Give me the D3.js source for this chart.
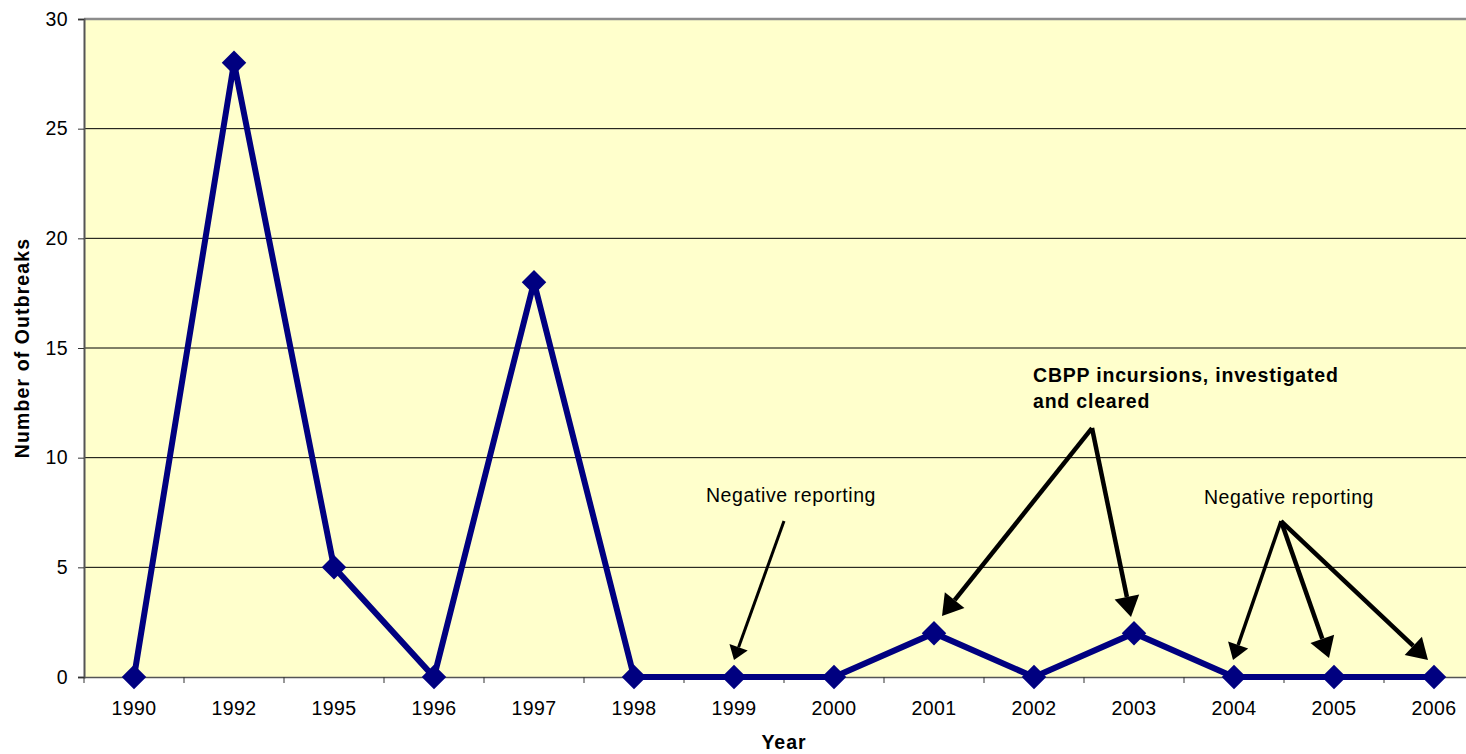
<!DOCTYPE html>
<html>
<head>
<meta charset="utf-8">
<script src="https://cdn.jsdelivr.net/npm/d3@7"></script>
<style>
  body { margin: 0; background: #fff; }
  svg { display: block; font-family: "Liberation Sans", Arial, sans-serif; }
</style>
</head>
<body>
<div id="chart"></div>
<script>
var years = ['1990','1992','1995','1996','1997','1998','1999','2000','2001','2002','2003','2004','2005','2006'];
var outbreaks = [0, 28, 5, 0, 18, 0, 0, 0, 2, 0, 2, 0, 0, 0];
var yTicks = [0, 5, 10, 15, 20, 25, 30];

// annotation arrows in data units (x = category index, y = outbreaks)
var arrows = [
    {x1: 6.5, y1: 7.11, x2: 6.0, y2: 0.78, w: 3},
    {x1: 9.58, y1: 11.35, x2: 8.08, y2: 2.78, w: 4.5},
    {x1: 9.58, y1: 11.35, x2: 9.97, y2: 2.74, w: 4.5},
    {x1: 11.47, y1: 7.11, x2: 10.99, y2: 0.78, w: 3.5},
    {x1: 11.47, y1: 7.11, x2: 11.95, y2: 0.87, w: 4.5},
    {x1: 11.47, y1: 7.11, x2: 12.94, y2: 0.78, w: 4.5}
];
var labels = [
    {x: 6.57, y: 7.98, text: 'Negative reporting', bold: false, anchor: 'middle'},
    {x: 11.55, y: 7.9, text: 'Negative reporting', bold: false, anchor: 'middle'},
    {x: 8.99, y: 13.45, text: 'CBPP incursions, investigated', bold: true, anchor: 'start'},
    {x: 8.99, y: 12.27, text: 'and cleared', bold: true, anchor: 'start'}
];

var width = 1466;
var height = 754;
var plotLeft = 84, plotTop = 19, plotBottom = 677, plotRight = 1484;
var fontSize = 19.5;

var svg = d3.select('#chart')
    .append('svg')
    .attr('width', width)
    .attr('height', height);

var x = d3.scaleBand()
    .domain(years)
    .range([plotLeft, plotRight])
    .padding(0);

var xi = d3.scaleLinear()
    .domain([-0.5, years.length - 0.5])
    .range([plotLeft, plotRight]);

var y = d3.scaleLinear()
    .domain([0, 30])
    .range([plotBottom, plotTop]);

// plot background
svg.append('rect')
    .attr('x', plotLeft)
    .attr('y', plotTop)
    .attr('width', plotRight - plotLeft)
    .attr('height', plotBottom - plotTop)
    .attr('fill', '#FFFFCC');

// gridlines
svg.append('g')
    .selectAll('line')
    .data(yTicks.filter(d => d > 0 && d < 30))
    .enter()
    .append('line')
    .attr('x1', plotLeft)
    .attr('x2', plotRight)
    .attr('y1', d => y(d))
    .attr('y2', d => y(d))
    .attr('stroke', '#000')
    .attr('stroke-width', 1);

// top border
svg.append('line')
    .attr('x1', plotLeft).attr('x2', plotRight)
    .attr('y1', y(30)).attr('y2', y(30))
    .attr('stroke', '#8c8c8c')
    .attr('stroke-width', 2.5);

// y axis
var yAxis = svg.append('g')
    .attr('transform', 'translate(' + plotLeft + ',0)')
    .call(d3.axisLeft(y).tickValues(yTicks).tickSize(6).tickPadding(10));
yAxis.select('.domain').attr('stroke', '#555').attr('stroke-width', 2);
yAxis.selectAll('.tick line').attr('stroke', '#333');
yAxis.selectAll('text')
    .attr('font-size', fontSize)
    .attr('font-family', '"Liberation Sans", Arial, sans-serif')
    .attr('letter-spacing', 0.4)
    .attr('fill', '#000');

// x axis
var xAxis = svg.append('g')
    .attr('transform', 'translate(0,' + plotBottom + ')')
    .call(d3.axisBottom(x).tickSize(0).tickPadding(24));
xAxis.select('.domain').attr('stroke', '#555').attr('stroke-width', 1.5);
xAxis.selectAll('text')
    .attr('font-size', fontSize)
    .attr('font-family', '"Liberation Sans", Arial, sans-serif')
    .attr('letter-spacing', 0.4)
    .attr('fill', '#000');

// x ticks between categories
svg.append('g')
    .selectAll('line')
    .data(d3.range(years.length + 1))
    .enter()
    .append('line')
    .attr('x1', d => xi(d - 0.5))
    .attr('x2', d => xi(d - 0.5))
    .attr('y1', plotBottom)
    .attr('y2', plotBottom + 6)
    .attr('stroke', '#333')
    .attr('stroke-width', 1);

// axis titles
svg.append('text')
    .attr('transform', 'translate(29,' + ((plotTop + plotBottom) / 2) + ') rotate(-90)')
    .attr('text-anchor', 'middle')
    .attr('font-size', fontSize)
    .attr('font-weight', 'bold')
    .attr('letter-spacing', 1.1)
    .text('Number of Outbreaks');

svg.append('text')
    .attr('x', 784)
    .attr('y', 749)
    .attr('text-anchor', 'middle')
    .attr('font-size', fontSize)
    .attr('font-weight', 'bold')
    .attr('letter-spacing', 1)
    .text('Year');

// series line
var line = d3.line()
    .x((d, i) => x(years[i]) + x.bandwidth() / 2)
    .y(d => y(d));

svg.append('path')
    .datum(outbreaks)
    .attr('d', line)
    .attr('fill', 'none')
    .attr('stroke', '#000080')
    .attr('stroke-width', 6)
    .attr('stroke-linejoin', 'miter');

svg.append('g')
    .selectAll('path')
    .data(outbreaks)
    .enter()
    .append('path')
    .attr('d', d3.symbol().type(d3.symbolSquare).size(300))
    .attr('transform', (d, i) => 'translate(' + (x(years[i]) + x.bandwidth() / 2) + ',' + y(d) + ') rotate(45)')
    .attr('fill', '#000080');

// annotations
function arrow(a) {
    var sx = xi(a.x1), sy = y(a.y1), ex = xi(a.x2), ey = y(a.y2);
    var ang = Math.atan2(ey - sy, ex - sx);
    var hl = a.w * 4.5, hw = a.w * 1.9 + 4;
    var bx = ex - hl * Math.cos(ang), by = ey - hl * Math.sin(ang);
    var g = svg.append('g');
    g.append('line')
        .attr('x1', sx).attr('y1', sy)
        .attr('x2', bx).attr('y2', by)
        .attr('stroke', '#000')
        .attr('stroke-width', a.w);
    var px = -Math.sin(ang) * hw, py = Math.cos(ang) * hw;
    g.append('path')
        .attr('d', 'M' + ex + ',' + ey + 'L' + (bx + px) + ',' + (by + py) + 'L' + (bx - px) + ',' + (by - py) + 'Z')
        .attr('fill', '#000');
}
arrows.forEach(arrow);

svg.append('g')
    .selectAll('text')
    .data(labels)
    .enter()
    .append('text')
    .attr('x', d => xi(d.x))
    .attr('y', d => y(d.y))
    .attr('text-anchor', d => d.anchor)
    .attr('font-size', fontSize)
    .attr('font-weight', d => d.bold ? 'bold' : 'normal')
    .attr('letter-spacing', d => d.bold ? 0.8 : 0.6)
    .text(d => d.text);
</script>
</body>
</html>
